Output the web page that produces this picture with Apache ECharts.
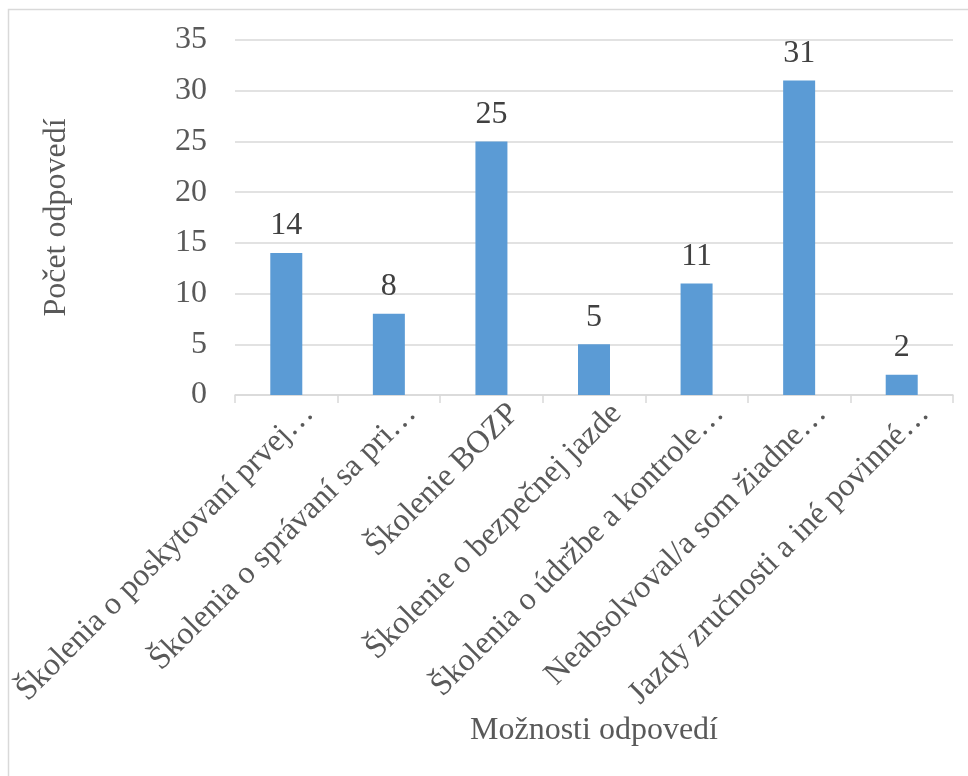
<!DOCTYPE html>
<html>
<head>
<meta charset="utf-8">
<script src="https://cdn.jsdelivr.net/npm/echarts@6/dist/echarts.min.js"></script>
<style>
  html, body { margin: 0; padding: 0; background: #fff; }
  #chart { width: 968px; height: 776px; }
</style>
</head>
<body>
<div id="chart"></div>
<script>
// categories (truncated as in the source chart)
var categories = [
    'Školenia o poskytovaní prvej…',
    'Školenia o správaní sa pri…',
    'Školenie BOZP',
    'Školenie o bezpečnej jazde',
    'Školenia o údržbe a kontrole…',
    'Neabsolvoval/a som žiadne…',
    'Jazdy zručnosti a iné povinné…'
];
var counts = [14, 8, 25, 5, 11, 31, 2];
var yTicks = [0, 5, 10, 15, 20, 25, 30, 35];

var serif = '"Liberation Serif", "Times New Roman", serif';
var textGray = '#595959';
var lineGray = '#d9d9d9';
var fs = 32;

var chart = echarts.init(document.getElementById('chart'));

var option = {
    backgroundColor: '#fff',
    animation: false,
    textStyle: { fontFamily: serif },
    graphic: [{
        type: 'rect',
        shape: { x: 8.5, y: 9.5, width: 1000, height: 1000 },
        style: { fill: 'none', stroke: lineGray, lineWidth: 1.5 },
        silent: true
    }],
    grid: {
        left: 235,
        right: 15,
        top: 40,
        bottom: 381,
        containLabel: false,
        outerBoundsMode: 'none'
    },
    xAxis: {
        type: 'category',
        data: categories,
        name: 'Možnosti odpovedí',
        nameLocation: 'middle',
        nameGap: 320,
        nameTextStyle: { color: textGray, fontSize: fs, fontFamily: serif },
        axisLine: { lineStyle: { color: lineGray, width: 1.5 } },
        axisTick: { show: true, length: 8, lineStyle: { color: lineGray, width: 1.5 } },
        axisLabel: {
            rotate: 45,
            interval: 0,
            margin: 8,
            verticalAlign: 'top',
            padding: [4, -12, 0, 0],
            color: textGray,
            fontSize: fs,
            fontFamily: serif
        }
    },
    yAxis: {
        type: 'value',
        min: yTicks[0],
        max: yTicks[yTicks.length - 1],
        interval: 5,
        name: 'Počet odpovedí',
        nameLocation: 'middle',
        nameGap: 162,
        nameRotate: 90,
        nameTextStyle: { color: textGray, fontSize: fs, fontFamily: serif },
        axisLine: { show: false },
        axisTick: { show: false },
        axisLabel: { margin: 28, color: textGray, fontSize: fs, fontFamily: serif },
        splitLine: { lineStyle: { color: lineGray, width: 1.5 } }
    },
    series: [{
        type: 'bar',
        data: counts,
        barWidth: 32,
        itemStyle: { color: '#5b9bd5' },
        label: {
            show: true,
            position: 'top',
            distance: 11,
            color: '#404040',
            fontSize: fs,
            fontFamily: serif
        }
    }]
};

chart.setOption(option);
</script>
</body>
</html>
